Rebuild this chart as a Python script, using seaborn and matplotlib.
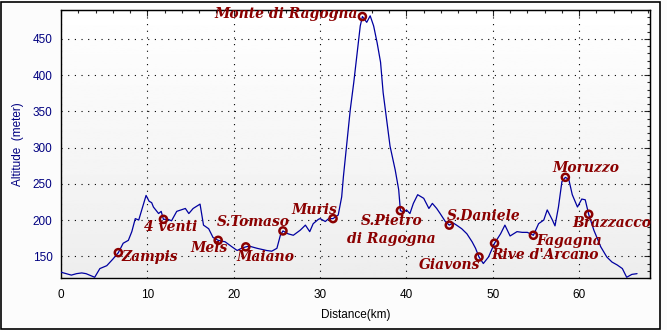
import numpy as np
import pandas as pd
import seaborn as sns
from matplotlib import pyplot as plt
from matplotlib.ticker import MultipleLocator
from matplotlib.patches import Rectangle

# Elevation profile (km, m)
dist_km = [0.0, 0.6, 1.2, 1.8, 2.4, 2.9, 3.3, 3.9, 4.5, 5.3, 6.0, 6.64, 7.2, 7.8, 8.2, 8.6,
           9.0, 9.35, 9.85, 10.2, 10.5, 10.7, 11.3, 11.6, 11.86, 12.4, 12.8, 13.4, 14.4, 14.8,
           15.3, 16.1, 16.5, 17.1, 17.6, 18.2, 19.0, 19.8, 20.4, 20.9, 21.4, 21.8, 22.7, 23.8,
           24.4, 25.0, 25.4, 25.7, 26.3, 26.9, 27.7, 28.3, 28.8, 29.2, 29.8, 30.0, 30.6, 31.0,
           31.5, 32.1, 32.5, 32.7, 33.1, 33.5, 33.9, 34.3, 34.65, 34.9, 35.4, 35.8, 36.2, 36.6,
           37.0, 37.3, 37.7, 38.1, 38.7, 39.1, 39.3, 39.7, 40.0, 40.4, 40.8, 41.3, 42.0, 42.6,
           43.0, 43.5, 43.9, 44.5, 44.96, 45.4, 45.8, 46.4, 47.0, 47.6, 48.0, 48.4, 48.9, 49.5,
           50.2, 50.9, 51.4, 52.0, 52.8, 53.4, 54.0, 54.7, 55.3, 55.9, 56.3, 56.9, 57.2, 57.6,
           58.0, 58.4, 58.8, 59.2, 59.8, 60.3, 60.7, 61.1, 61.7, 62.5, 63.2, 63.8, 64.4, 65.0,
           65.5, 66.1, 66.7]
altitude = [128, 126, 124, 126, 127, 126, 124, 121, 133, 137, 146, 155, 168, 172, 184, 202,
            200, 214, 234, 226, 224, 218, 209, 212, 201, 201, 199, 212, 216, 209,
            216, 222, 193, 188, 176, 172, 170, 163, 158, 161, 163, 164, 161, 158,
            157, 161, 179, 185, 181, 179, 186, 193, 184, 195, 201, 202, 198, 202,
            202, 207, 232, 260, 306, 353, 390, 432, 468, 481, 473, 482, 468, 445,
            418, 376, 339, 302, 269, 242, 213, 211, 214, 209, 223, 235, 230, 216,
            223, 216, 209, 198, 193, 196, 193, 188, 181, 170, 161, 149, 140, 149,
            168, 181, 193, 178, 184, 183, 183, 179, 195, 200, 214, 200, 192, 218,
            253, 259, 256, 235, 218, 229, 228, 208, 186, 163, 149, 142, 138, 133,
            121, 125, 126]

# Places along the route
stations = ['Zampis', '4 venti', 'Mels', 'Maiano', 'S.Tomaso', 'Muris', 'Monte di Ragogna',
            'S.Pietro\ndi Ragogna', 'S.Daniele', 'Giavons', "Rive d'Arcano", 'Fagagna',
            'Moruzzo', 'Brazzacco']
station_km = [6.64, 11.86, 18.2, 21.4, 25.7, 31.5, 34.9, 39.3, 44.96, 48.4, 50.2, 54.7, 58.4, 61.1]
station_alt = [155, 201, 172, 163, 185, 202, 481, 213, 193, 149, 168, 179, 259, 208]

# label placement: (dx px, dy px, ha)
label_pos = [(3, -4, 'left'), (7, -8, 'center'), (9, -8, 'right'), (-9, -10, 'left'),
             (7, 9, 'right'), (4, 9, 'right'), (-5, 3, 'right'), (-9, -19, 'center'),
             (-2, 9, 'left'), (1, -8, 'right'), (-3, -12, 'left'), (3, -6, 'left'),
             (-13, 9, 'left'), (-16, -9, 'left')]

profile = pd.DataFrame({'km': dist_km, 'alt': altitude})
places = pd.DataFrame({'km': station_km, 'alt': station_alt, 'name': stations})

sns.set_style('white')
plt.rcParams['font.family'] = ['Liberation Sans', 'DejaVu Sans']

fig = plt.figure(figsize=(6.67, 3.30), dpi=100, facecolor='#fcfcfc')
ax = fig.add_axes([61/667, 52/330, 589/667, 268/330])

# light gradient background in the plot area
grad = np.linspace(1.0, 0.93, 256).reshape(-1, 1)
ax.imshow(grad, extent=[0, 1, 0, 1], transform=ax.transAxes, cmap='gray',
          vmin=0, vmax=1, aspect='auto', zorder=0)

sns.lineplot(data=profile, x='km', y='alt', ax=ax, color='#0000a0', linewidth=0.9,
             estimator=None, sort=False, zorder=3)
sns.scatterplot(data=places, x='km', y='alt', ax=ax, marker='o', s=26,
                facecolor='none', edgecolor='#8b0000', linewidth=1.8, zorder=4)

for (name, x, y), (dx, dy, ha) in zip(zip(stations, station_km, station_alt), label_pos):
    ax.annotate(name, (x, y), xytext=(dx, dy), textcoords='offset pixels',
                ha=ha, va='center', color='#8b0000', fontsize=10,
                fontweight='bold', fontstyle='italic', family='DejaVu Serif',
                linespacing=1.35, multialignment='center', zorder=5)

ax.set_xlim(0, 68.2)
ax.set_ylim(120, 490)
ax.xaxis.set_major_locator(MultipleLocator(10))
ax.xaxis.set_minor_locator(MultipleLocator(2))
ax.yaxis.set_major_locator(MultipleLocator(50))
ax.yaxis.set_minor_locator(MultipleLocator(10))
ax.set_yticks([150, 200, 250, 300, 350, 400, 450])

ax.grid(True, which='major', color='black', linestyle=(0, (1, 5)), linewidth=0.8)
for s in ax.spines.values():
    s.set_color('black')
    s.set_linewidth(1.0)

ax.tick_params(which='major', direction='inout', length=6, width=0.8, colors='black',
               labelsize=8.5, top=False, right=False)
ax.tick_params(which='minor', direction='inout', length=4, width=0.8, top=False, right=False)
ax.tick_params(axis='y', labelcolor='#000080', pad=3)
ax.tick_params(axis='x', pad=5)

# inner ticks on top and right
top = ax.secondary_xaxis('top')
top.xaxis.set_major_locator(MultipleLocator(10))
top.xaxis.set_minor_locator(MultipleLocator(2))
top.tick_params(which='major', direction='in', length=4, width=0.8, labeltop=False)
top.tick_params(which='minor', direction='in', length=2, width=0.8)
right = ax.secondary_yaxis('right')
right.yaxis.set_major_locator(MultipleLocator(50))
right.yaxis.set_minor_locator(MultipleLocator(10))
right.tick_params(which='major', direction='in', length=4, width=0.8, labelright=False)
right.tick_params(which='minor', direction='in', length=2, width=0.8)

ax.set_xlabel('Distance(km)', fontsize=8.5, color='black', labelpad=6)
ax.set_ylabel('Altitude  (meter)', fontsize=8.5, color='#000080', labelpad=6)

# outer frame
fig.patches.append(Rectangle((0.5/667, 1/330), 659.5/667, 327.5/330, transform=fig.transFigure,
                             fill=False, edgecolor='black', linewidth=1.2))

fig.savefig('out.png', dpi=100)
